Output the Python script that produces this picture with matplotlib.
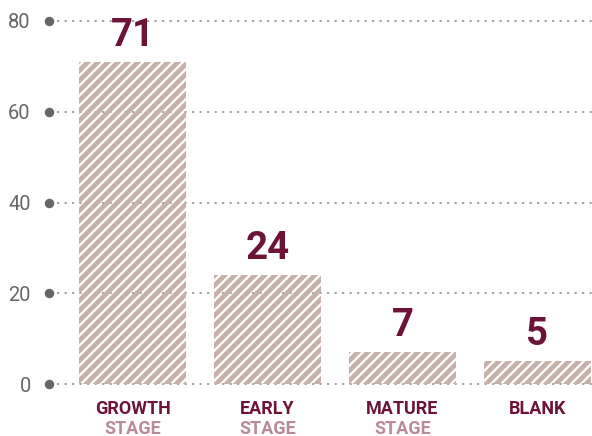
import matplotlib.pyplot as plt
import matplotlib.transforms as mtransforms

# data
stages = ["GROWTH", "EARLY", "MATURE", "BLANK"]
sub_labels = ["STAGE", "STAGE", "STAGE", ""]
counts = [71, 24, 7, 5]
y_ticks = [0, 20, 40, 60, 80]

DARK = "#6d1338"
PINK = "#b98a9c"
HATCH = "#c5b1a9"
GRAY = "#666666"

plt.rcParams["font.family"] = ["Roboto", "DejaVu Sans"]
plt.rcParams["hatch.linewidth"] = 2.8

fig = plt.figure(figsize=(592 / 120, 436 / 120), dpi=120)
ax = fig.add_axes([49 / 592, 52 / 436, 543 / 592, 363 / 436])

x = list(range(len(stages)))
ax.bar(x, counts, width=0.79, facecolor="none", edgecolor=HATCH,
       hatch="////", linewidth=0, zorder=2)

ax.set_xlim(-0.619, 3.404)
ax.set_ylim(0, 80)

# dotted gridlines with a dot at the left end
for t in y_ticks:
    ax.plot([-0.56, 3.404], [t, t], color="#888888", linewidth=0.9,
            linestyle=(0, (1.5, 3.5)), clip_on=False, zorder=1)
ax.scatter([-0.619] * len(y_ticks), y_ticks, s=22, color=GRAY,
           clip_on=False, zorder=3)

for s in ax.spines.values():
    s.set_visible(False)
ax.set_xticks([])
ax.set_yticks(y_ticks)
ax.set_yticklabels([str(t) for t in y_ticks], fontsize=12, color=GRAY)
ax.tick_params(axis="y", length=0, pad=11)

for xi, v in zip(x, counts):
    ax.annotate(str(v), (xi, v), xytext=(0, 5), textcoords="offset points",
                ha="center", va="bottom", fontsize=23, fontweight="bold",
                color=DARK)

trans = mtransforms.blended_transform_factory(ax.transData, fig.transFigure)
for xi, name, sub in zip(x, stages, sub_labels):
    ax.text(xi, 1 - 409 / 436, name, transform=trans, ha="center",
            va="center", fontsize=10.8, fontweight="bold", color=DARK)
    if sub:
        ax.text(xi, 1 - 428.5 / 436, sub, transform=trans, ha="center",
                va="center", fontsize=10.8, fontweight="bold", color=PINK)

fig.savefig("out.png", dpi=120)
